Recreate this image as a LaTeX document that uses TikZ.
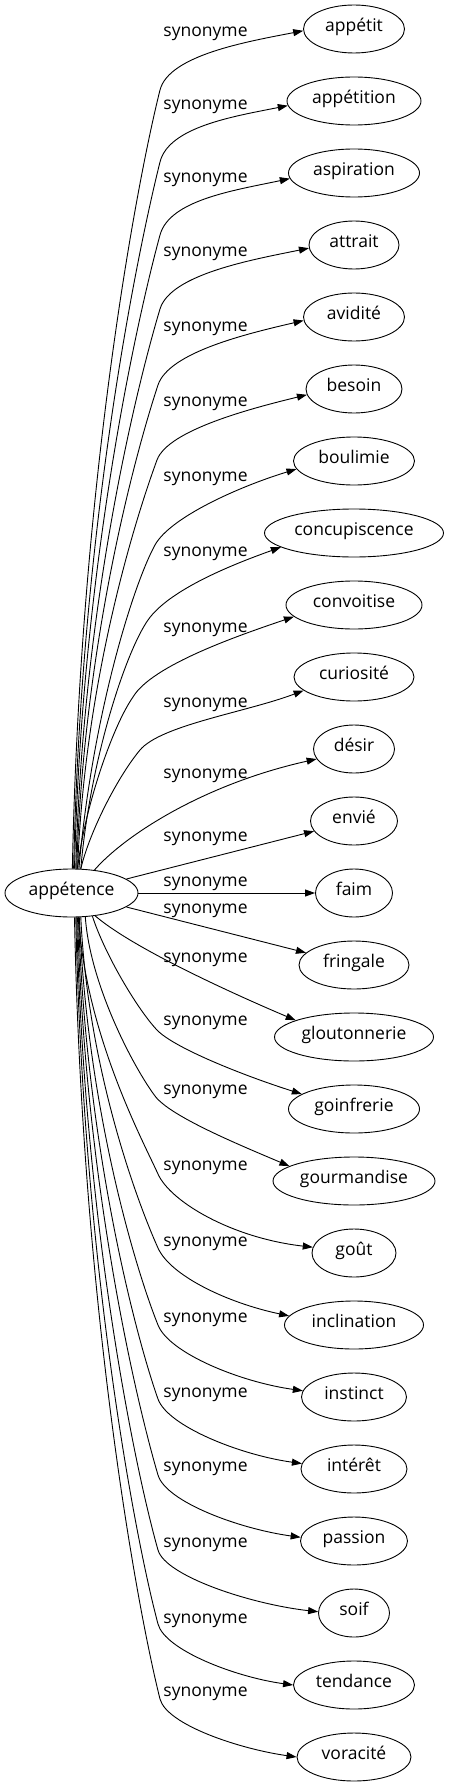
\documentclass[tikz,border=0pt]{standalone}
\usepackage{fontspec}
\setmainfont{Open Sans}
\usetikzlibrary{arrows.meta,shapes.geometric}
\begin{document}
\begin{tikzpicture}[x=1pt,y=-1pt,
  every node/.style={font=\fontsize{17.5}{20}\selectfont},
  word/.style={draw, ellipse, minimum height=48pt, inner sep=0pt, line width=0.9pt, text height=0.75em, text depth=0.25em},
  lab/.style={anchor=base, inner sep=0pt},
  syn/.style={line width=0.9pt, -{Triangle[length=10pt,width=7pt]}}]
\useasboundingbox (0,0) rectangle (449,1787);
% centre
\node[word, minimum width=133pt] (a) at (71.5,893) {appétence};
% targets
\node[word, minimum width=101pt] (appetit) at (354,29) {appétit};
\node[word, minimum width=134pt] (appetition) at (354,101) {appétition};
\node[word, minimum width=131pt] (aspiration) at (354,173) {aspiration};
\node[word, minimum width=90pt] (attrait) at (354,245) {attrait};
\node[word, minimum width=101pt] (avidite) at (354,317) {avidité};
\node[word, minimum width=96pt] (besoin) at (354,389) {besoin};
\node[word, minimum width=121pt] (boulimie) at (354,461) {boulimie};
\node[word, minimum width=179pt] (concupiscence) at (354,533) {concupiscence};
\node[word, minimum width=136pt] (convoitise) at (354,605) {convoitise};
\node[word, minimum width=120pt] (curiosite) at (354,677) {curiosité};
\node[word, minimum width=81pt] (desir) at (354,749) {désir};
\node[word, minimum width=87pt] (envie) at (354,821) {envié};
\node[word, minimum width=77pt] (faim) at (354,893) {faim};
\node[word, minimum width=110pt] (fringale) at (354,965) {fringale};
\node[word, minimum width=159pt] (gloutonnerie) at (354,1037) {gloutonnerie};
\node[word, minimum width=131pt] (goinfrerie) at (354,1109) {goinfrerie};
\node[word, minimum width=162pt] (gourmandise) at (354,1181) {gourmandise};
\node[word, minimum width=84pt] (gout) at (354,1253) {goût};
\node[word, minimum width=139pt] (inclination) at (354,1325) {inclination};
\node[word, minimum width=105pt] (instinct) at (354,1397) {instinct};
\node[word, minimum width=106pt] (interet) at (354,1469) {intérêt};
\node[word, minimum width=107pt] (passion) at (354,1541) {passion};
\node[word, minimum width=71pt] (soif) at (354,1613) {soif};
\node[word, minimum width=121pt] (tendance) at (354,1685) {tendance};
\node[word, minimum width=114pt] (voracite) at (354,1757) {voracité};
% labels
\node[lab] (l1) at (205.5,36.5) {synonyme};
\node[lab] (l2) at (205.5,109.5) {synonyme};
\node[lab] (l3) at (205.5,182.5) {synonyme};
\node[lab] (l4) at (205.5,256.5) {synonyme};
\node[lab] (l5) at (205.5,331.5) {synonyme};
\node[lab] (l6) at (205.5,406.5) {synonyme};
\node[lab] (l7) at (205.5,481.5) {synonyme};
\node[lab] (l8) at (205.5,556.5) {synonyme};
\node[lab] (l9) at (205.5,632.5) {synonyme};
\node[lab] (l10) at (205.5,707.5) {synonyme};
\node[lab] (l11) at (205.5,778.5) {synonyme};
\node[lab] (l12) at (205.5,841.5) {synonyme};
\node[lab] (l13) at (205.5,886.5) {synonyme};
\node[lab] (l14) at (205.5,913.5) {synonyme};
\node[lab] (l15) at (205.5,962.5) {synonyme};
\node[lab] (l16) at (205.5,1025.5) {synonyme};
\node[lab] (l17) at (205.5,1094.5) {synonyme};
\node[lab] (l18) at (205.5,1170.5) {synonyme};
\node[lab] (l19) at (205.5,1246.5) {synonyme};
\node[lab] (l20) at (205.5,1322.5) {synonyme};
\node[lab] (l21) at (205.5,1397.5) {synonyme};
\node[lab] (l22) at (205.5,1471.5) {synonyme};
\node[lab] (l23) at (205.5,1547.5) {synonyme};
\node[lab] (l24) at (205.5,1623.5) {synonyme};
\node[lab] (l25) at (205.5,1696.5) {synonyme};
% edges (upper)
\draw[syn] (a.88) .. controls (80,490) and (135,190) .. (160,90) .. controls (169,55) and (248,41.5) .. (appetit.182);
\draw[syn] (a.85) .. controls (81,525) and (137.5,252) .. (160,162) .. controls (168.75,127) and (233,116.5) .. (appetition.184);
\draw[syn] (a.83) .. controls (82,562) and (138,316) .. (160,235) .. controls (169.5,200) and (234,190.4) .. (aspiration.185);
\draw[syn] (a.80.5) .. controls (83,599) and (138.4,381) .. (160,309) .. controls (170.5,274) and (254,259.4) .. (attrait.184);
\draw[syn] (a.78) .. controls (84,637) and (137.5,447) .. (158,385) .. controls (169,352) and (248.4,333.4) .. (avidite.184);
\draw[syn] (a.76) .. controls (85,675) and (137.8,512) .. (157,460) .. controls (168,430) and (251.6,408.3) .. (besoin.187);
\draw[syn] (a.73.7) .. controls (92,717) and (133,585) .. (155,545) .. controls (170.4,517) and (240.4,486.1) .. (boulimie.188);
\draw[syn] (a.69.4) .. controls (90,760) and (125.6,652) .. (148,620) .. controls (169,590) and (231,565) .. (concupiscence.191);
\draw[syn] (a.76) .. controls (84,810) and (112,727) .. (133,697) .. controls (152,665) and (240,635) .. (convoitise.191.5);
\draw[syn] (a.69.4) .. controls (90,830) and (119,775) .. (140,750) .. controls (161,725) and (247,712) .. (curiosite.195);
\draw[syn] (a.45) .. controls (122,838) and (200,785) .. (desir.195);
\draw[syn] (a) -- (envie);
\draw[syn] (a) -- (faim);
\draw[syn] (a) -- (fringale);
% edges (lower)
\draw[syn] (a.-44) .. controls (135,950) and (243,998) .. (gloutonnerie.164);
\draw[syn] (a.-48) .. controls (105,955) and (138,1010) .. (157,1030) .. controls (174,1048) and (244.7,1076) .. (goinfrerie.164);
\draw[syn] (a.-60) .. controls (90,985) and (134,1068) .. (155,1096) .. controls (170,1116) and (236,1143.5) .. (gourmandise.167);
\draw[syn] (a.-74) .. controls (86,1035) and (143,1141) .. (158,1174) .. controls (170.6,1202) and (232,1238) .. (gout.172);
\draw[syn] (a.-69.4) .. controls (88,1072) and (139,1206) .. (158,1248) .. controls (170.6,1276) and (228,1303) .. (inclination.172);
\draw[syn] (a.-72) .. controls (87,1111) and (137,1273) .. (158,1325) .. controls (169,1353) and (240,1382) .. (instinct.173);
\draw[syn] (a.-74) .. controls (86,1148) and (136,1337) .. (158,1399) .. controls (167.5,1426) and (240,1455) .. (interet.174);
\draw[syn] (a.-76) .. controls (85,1186) and (137,1404) .. (158,1475) .. controls (166,1502) and (240,1529) .. (passion.176);
\draw[syn] (a.-78) .. controls (84,1223) and (135,1469) .. (158,1550) .. controls (165.3,1576) and (250,1604) .. (soif.178);
\draw[syn] (a.-80.5) .. controls (83,1260) and (134,1534) .. (158,1624) .. controls (165,1650) and (235,1677) .. (tendance.180);
\draw[syn] (a.-83) .. controls (82,1298) and (135,1599) .. (160,1699) .. controls (167,1725) and (240,1749) .. (voracite.180);
\end{tikzpicture}
\end{document}
